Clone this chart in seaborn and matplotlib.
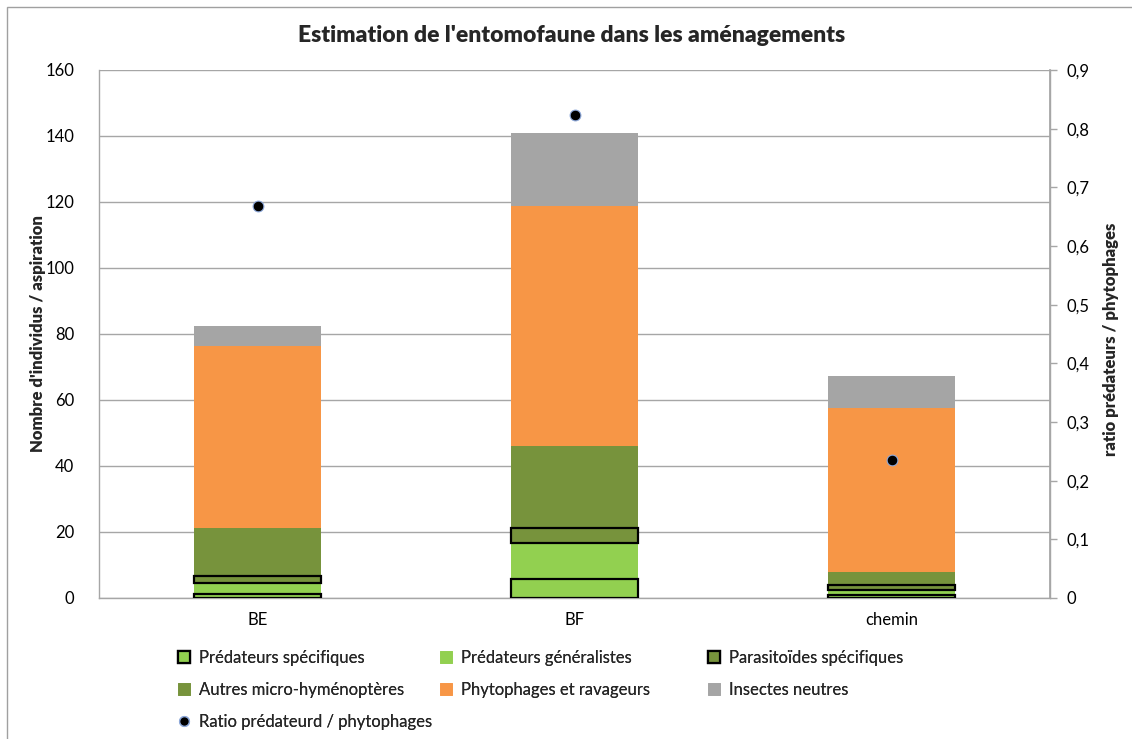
import matplotlib
matplotlib.use("Agg")
import matplotlib.pyplot as plt
import seaborn as sns
import numpy as np
from matplotlib.patches import Rectangle, Patch
from matplotlib.lines import Line2D

categories = ["BE", "BF", "chemin"]
pred_spec = [1.2, 5.7, 0.9]
pred_gen = [3.3, 10.9, 1.5]
parasit = [2.2, 4.5, 1.5]
autres = [14.5, 24.9, 3.9]
phyto = [55.2, 72.8, 49.7]
neutres = [6.1, 22.0, 9.8]
ratio = [0.668, 0.824, 0.235]

series_labels = ["Prédateurs spécifiques", "Prédateurs généralistes", "Parasitoïdes spécifiques",
                 "Autres micro-hyménoptères", "Phytophages et ravageurs", "Insectes neutres"]
ratio_label = "Ratio prédateurd / phytophages"
title = "Estimation de l'entomofaune dans les aménagements"
ylabel_left = "Nombre d'individus / aspiration"
ylabel_right = "ratio prédateurs / phytophages"

sns.set_theme(style="white")
FONT = ["Lato", "DejaVu Sans"]
plt.rcParams['font.family'] = FONT

W, H = 1132, 739
fig = plt.figure(figsize=(W / 100, H / 100), dpi=100)
ax = fig.add_axes([99 / W, 1 - 598 / H, (1050 - 99) / W, (598 - 70) / H])

grid_c = "#A6A6A6"
ax.set_axisbelow(True)
ax.yaxis.grid(True, color=grid_c, linewidth=1.0)

series = [pred_spec, pred_gen, parasit, autres, phyto, neutres]
colors = ["#92D050", "#92D050", "#77933C", "#77933C", "#F79646", "#A5A5A5"]
edges = ["black", "none", "black", "none", "none", "none"]
lws = [1.6, 0, 1.6, 0, 0, 0]

bottom = np.zeros(len(categories))
handles = []
for vals, col, ec, lw, lab in zip(series, colors, edges, lws, series_labels):
    sns.barplot(x=categories, y=vals, bottom=bottom, color=col, saturation=1,
                width=0.4, edgecolor=ec, linewidth=lw, errorbar=None, ax=ax,
                zorder=3 if ec == "black" else 2)
    bottom = bottom + np.array(vals)
    handles.append(Patch(facecolor=col, edgecolor=ec if ec != "none" else col, linewidth=lw if lw else 0.5))

ax.set_xlim(-0.5, len(categories) - 0.5)
ax.set_ylim(0, 160)
ax.set_yticks(np.arange(0, 161, 20))
ax.tick_params(axis="both", labelsize=12, colors="black", length=0)
ax.tick_params(axis="y", pad=18)
ax.tick_params(axis="x", pad=10)
for s in ["left", "bottom", "right", "top"]:
    ax.spines[s].set_color(grid_c)
    ax.spines[s].set_linewidth(1.0)
ax.spines["top"].set_visible(False)
ax.set_ylabel(ylabel_left, fontsize=12, fontweight="heavy")
ax.yaxis.set_label_coords(-0.056, 0.5)
ax.set_xlabel("")

ax2 = ax.twinx()
sns.scatterplot(x=np.arange(len(categories)), y=ratio, ax=ax2, color="black",
                edgecolor="#8EA9DB", linewidth=0.8, s=60, zorder=5, legend=False)
ax2.set_ylim(0, 0.9)
ax2.set_yticks(np.arange(0, 0.91, 0.1))
ax2.set_yticklabels(["0"] + [f"0,{i}" for i in range(1, 10)])
ax2.tick_params(axis="y", labelsize=12, colors="black", length=5, width=1.0, direction="out", pad=7)
ax2.tick_params(axis="y", color=grid_c)
for s in ["left", "bottom", "top"]:
    ax2.spines[s].set_visible(False)
ax2.spines["right"].set_color(grid_c)
ax2.set_ylabel(ylabel_right, fontsize=12, fontweight="heavy")
ax2.yaxis.set_label_coords(1.056, 0.49)
ax2.grid(False)
ax.set_xlim(-0.5, len(categories) - 0.5)

fig.text(0.505, 1 - 36 / H, title, ha="center", va="center", fontsize=16.5, fontweight="heavy")

dot_handle = Line2D([], [], marker="o", linestyle="none", markerfacecolor="black",
                    markeredgecolor="#8EA9DB", markersize=7)

cols = [
    ([handles[0], handles[3], dot_handle], [series_labels[0], series_labels[3], ratio_label], 178),
    ([handles[1], handles[4]], [series_labels[1], series_labels[4]], 440),
    ([handles[2], handles[5]], [series_labels[2], series_labels[5]], 708),
]
for hs, ls, xpx in cols:
    leg = fig.legend(hs, ls, loc="upper left", bbox_to_anchor=(xpx / W, 1 - 650 / H),
                     frameon=False, fontsize=12, handlelength=0.7, handleheight=0.7,
                     handletextpad=0.55, labelspacing=0.95, borderaxespad=0, borderpad=0)
    fig.add_artist(leg)

fig.add_artist(Rectangle((7 / W, -0.1), 1.2, 1.1 - 7 / H, transform=fig.transFigure,
                         fill=False, edgecolor="#A0A0A0", linewidth=1.0))

fig.savefig("out.png", dpi=100)
